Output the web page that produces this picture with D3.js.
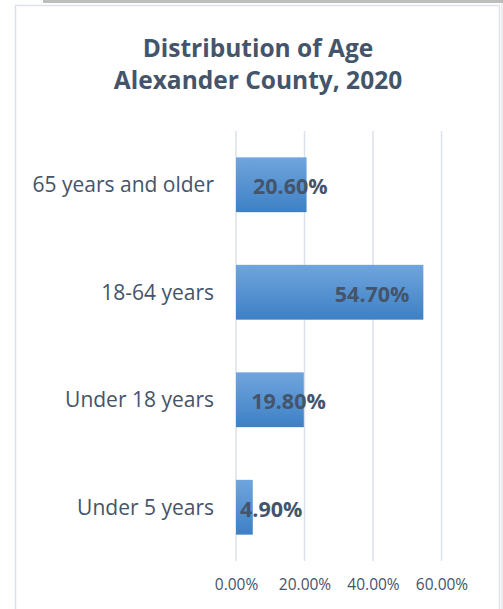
<!DOCTYPE html>
<html><head><meta charset="utf-8">
<script src="https://cdn.jsdelivr.net/npm/d3@7"></script>
<style>body{margin:0;background:#fff;} svg{display:block;}</style>
</head><body>
<svg id="c" width="503" height="609"></svg>
<script>
const categories = ["65 years and older", "18-64 years", "Under 18 years", "Under 5 years"];
const values = [0.206, 0.547, 0.198, 0.049];
const tickValues = [0, 0.2, 0.4, 0.6];
const titleLines = ["Distribution of Age", "Alexander County, 2020"];

const svg = d3.select("#c");
const textColor = "#44546A";
const font = "'Open Sans', sans-serif";

// frame
svg.append("rect").attr("x", 43).attr("y", 0).attr("width", 460).attr("height", 3).attr("fill", "#bdbdbd");
svg.append("rect").attr("x", 501).attr("y", 3).attr("width", 2).attr("height", 606).attr("fill", "#ececec");
svg.append("path").attr("d", "M15.5,609 V5.5 H499.5 V609")
  .attr("fill", "none").attr("stroke", "#dde2ea").attr("stroke-width", 1.5);

// title
svg.append("text").attr("x", 258).attr("y", 57).attr("text-anchor", "middle")
  .attr("font-family", font).attr("font-weight", 700).attr("font-size", 24.5).attr("fill", textColor)
  .selectAll("tspan").data(titleLines).join("tspan")
  .attr("x", 258).attr("dy", (d, i) => i ? 31.5 : 0).text(d => d);

const x = d3.scaleLinear().domain([0, 0.6]).range([236, 441.5]);
const y = d3.scaleBand().domain(categories).range([131, 561]).paddingInner(0.49).paddingOuter(0.245);

// gridlines
svg.append("g").selectAll("line").data(tickValues).join("line")
  .attr("x1", d => x(d)).attr("x2", d => x(d)).attr("y1", 131).attr("y2", 561)
  .attr("stroke", "#dde2ea").attr("stroke-width", 1.5);

// gradient
const defs = svg.append("defs");
const g = defs.append("linearGradient").attr("id", "bg").attr("x1", 0).attr("x2", 0).attr("y1", 0).attr("y2", 1);
g.append("stop").attr("offset", "0%").attr("stop-color", "#70a5dd");
g.append("stop").attr("offset", "100%").attr("stop-color", "#3d80c5");

const data = categories.map((c, i) => ({c, v: values[i]}));

svg.append("g").selectAll("rect").data(data).join("rect")
  .attr("x", x(0)).attr("y", d => y(d.c)).attr("width", d => x(d.v) - x(0)).attr("height", y.bandwidth())
  .attr("fill", "url(#bg)");

// x axis labels
const xAxis = d3.axisBottom(x).tickValues(tickValues).tickFormat(d3.format(".2%")).tickSize(0).tickPadding(0);
const ax = svg.append("g").attr("transform", "translate(0,579)").call(xAxis);
ax.select(".domain").remove();
ax.selectAll("text").attr("font-family", font).attr("font-size", 15.5).attr("fill", textColor);

// y category labels
const yAxis = d3.axisLeft(y).tickSize(0).tickPadding(0);
const ay = svg.append("g").attr("transform", "translate(214,1)").call(yAxis);
ay.select(".domain").remove();
ay.selectAll("text").attr("font-family", font).attr("font-size", 21).attr("fill", textColor);

// value labels
const fmt = d3.format(".2%");
svg.append("g").selectAll("text").data(data).join("text")
  .attr("font-family", font).attr("font-weight", 700).attr("font-size", 21.5).attr("fill", textColor)
  .attr("dominant-baseline", "central").attr("text-anchor", "middle")
  .attr("y", d => y(d.c) + y.bandwidth() / 2 + 1)
  .text(d => fmt(d.v))
  .attr("x", function(d) {
    const w = this.getComputedTextLength();
    return Math.max(x(d.v * 0.7) + 5, x(0) + 4 + w / 2);
  });
</script>
</body></html>
